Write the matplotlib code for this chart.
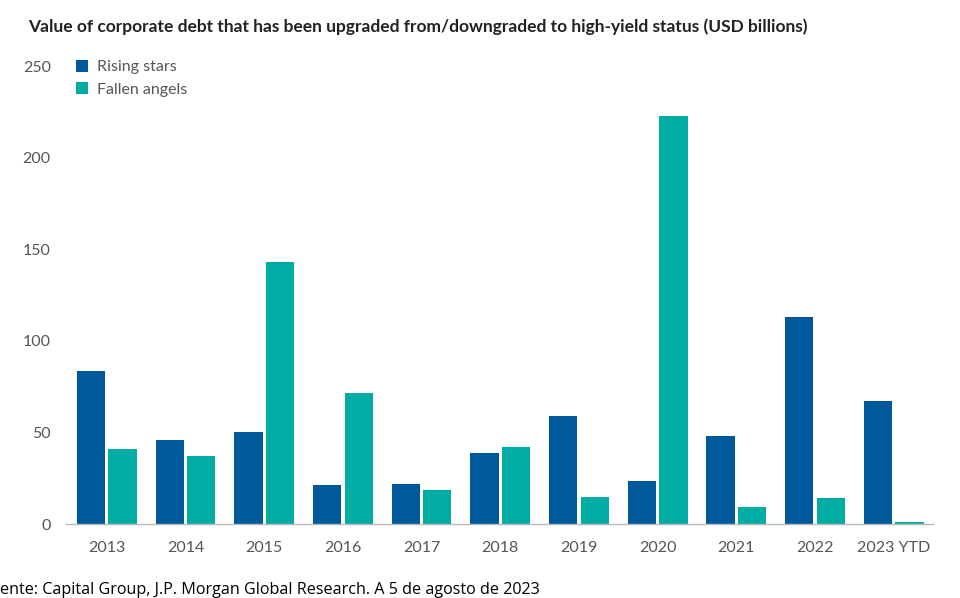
"""Rising stars vs fallen angels bar chart."""

import matplotlib.pyplot as plt
import numpy as np


# data
years = ['2013', '2014', '2015', '2016', '2017', '2018',
         '2019', '2020', '2021', '2022', '2023 YTD']
rising_stars = [83.5, 46, 50, 21.5, 22, 39, 59, 23.5, 48, 113, 67]
fallen_angels = [41, 37, 143, 71.5, 18.5, 42, 15, 222.5, 9.5, 14, 1]
yticks = [0, 50, 100, 150, 200, 250]

BLUE = '#00599b'
TEAL = '#00ada4'
GREY = '#555555'

plt.rcParams['font.family'] = ['Lato', 'DejaVu Sans']

fig = plt.figure(figsize=(9.6, 5.98), dpi=100)
ax = fig.add_axes([0.06875, 0.1237, 0.9031, 0.7659])

x = np.arange(len(years))
ax.bar(x - 0.2, rising_stars, width=0.36, color=BLUE, label='Rising stars')
ax.bar(x + 0.2, fallen_angels, width=0.36, color=TEAL, label='Fallen angels')

ax.set_xlim(-0.52, 10.5)
ax.set_ylim(0, 250)
ax.set_xticks(x)
ax.set_xticklabels(years)
ax.set_yticks(yticks)

# only the zero line stays
for side in ['top', 'right', 'left']:
    ax.spines[side].set_visible(False)
ax.spines['bottom'].set_color('#b8b8b8')
ax.spines['bottom'].set_linewidth(1)
ax.tick_params(axis='both', length=0, labelsize=11.5, labelcolor=GREY)
ax.tick_params(axis='x', pad=12)
ax.tick_params(axis='y', pad=11)

ax.legend(loc='upper left', bbox_to_anchor=(0.004, 1.027), frameon=False,
          fontsize=11.5, labelcolor=GREY, handlelength=0.75,
          handleheight=0.75, handletextpad=0.6, labelspacing=0.5,
          borderaxespad=0)

fig.text(28 / 960, 1 - 27 / 598,
         'Value of corporate debt that has been upgraded from/downgraded '
         'to high-yield status (USD billions)',
         fontsize=12.5, fontweight='bold', color='#222222', va='center')
fig.text(0, 1 - 590 / 598,
         'ente: Capital Group, J.P. Morgan Global Research. '
         'A 5 de agosto de 2023',
         fontsize=11.6, color='black', va='center',
         family=['Open Sans', 'DejaVu Sans'])

fig.savefig('out.png', dpi=100, facecolor='white')
